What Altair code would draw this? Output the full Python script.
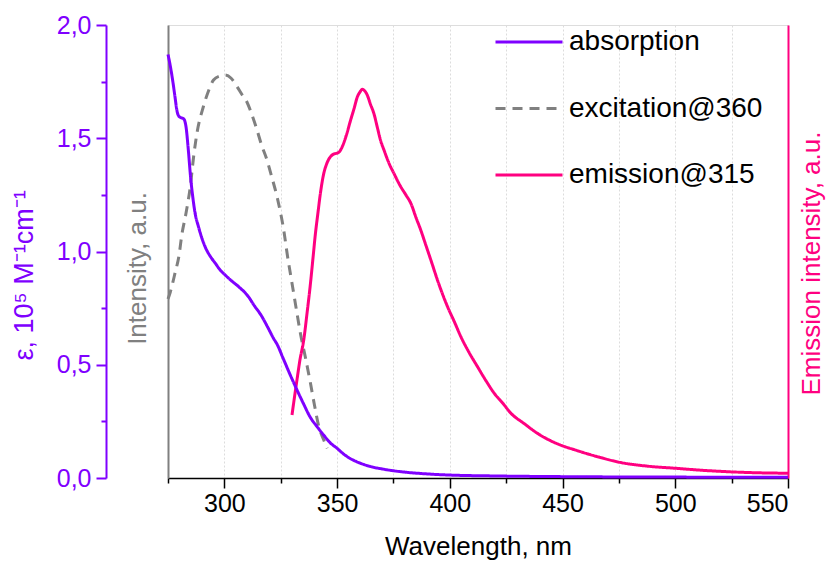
import altair as alt
import pandas as pd

# ---- data ----
series_names = ["absorption", "excitation@360", "emission@315"]

abs_wl = [275, 276, 277, 278, 279, 280, 281, 282, 283, 284, 285, 286, 287, 288.5, 290, 291.5,
          294, 296, 298, 300.4, 303, 306.3, 310.7, 313, 316.7, 319, 321.9, 323.4, 326, 329,
          332.2, 335, 338, 341.1, 344, 347, 350, 353, 356, 360.4, 365, 370, 375, 380, 390,
          400, 420, 450, 500, 550]
abs_val = [1.87, 1.82, 1.76, 1.69, 1.62, 1.595, 1.59, 1.585, 1.55, 1.45, 1.33, 1.24, 1.17, 1.11,
           1.06, 1.02, 0.975, 0.948, 0.92, 0.896, 0.872, 0.845, 0.80, 0.765, 0.712, 0.67, 0.615,
           0.59, 0.53, 0.46, 0.389, 0.33, 0.27, 0.227, 0.19, 0.155, 0.131, 0.105, 0.085, 0.065,
           0.05, 0.04, 0.032, 0.026, 0.018, 0.013, 0.009, 0.006, 0.004, 0.003]

exc_wl = [275, 276, 278, 280, 281, 283, 284.8, 286.5, 287.8, 290.7, 293, 295.2, 298, 300.4,
          303, 305.6, 308, 310, 312, 314.5, 316.5, 318.9, 321, 323.4, 326.4, 328, 330, 332,
          333.7, 336, 338.2, 340, 341.9, 344, 345.6]
exc_val = [0.79, 0.82, 0.90, 0.99, 1.065, 1.17, 1.28, 1.43, 1.52, 1.64, 1.71, 1.757, 1.775,
           1.779, 1.765, 1.728, 1.69, 1.66, 1.61, 1.536, 1.47, 1.404, 1.33, 1.24, 1.09, 0.98,
           0.86, 0.74, 0.64, 0.53, 0.418, 0.32, 0.227, 0.17, 0.131]

em_wl = [330.0, 331, 332.2, 333.5, 335.2, 336.7, 338.2, 339.3, 340.4, 341.5, 342.5, 344.1,
         345.5, 347.1, 348.5, 350, 351, 352.3, 354, 356, 357.5, 359, 360.2, 361.2, 362.2,
         363.4, 364.8, 366.3, 367.8, 369.3, 370.8, 373, 375.2, 378, 380.5, 382.7, 385, 387.1,
         389.3, 391.6, 395, 399, 402, 404.9, 408.5, 412.3, 416, 419.7, 423.5, 427.1, 433,
         438.9, 444, 450, 455.2, 460, 467, 476, 488, 500, 512, 525, 537, 550]
em_val = [0.278, 0.35, 0.433, 0.52, 0.609, 0.73, 0.86, 0.97, 1.08, 1.17, 1.25, 1.345, 1.39,
          1.419, 1.43, 1.434, 1.44, 1.463, 1.51, 1.58, 1.63, 1.683, 1.705, 1.716, 1.71, 1.69,
          1.65, 1.61, 1.55, 1.49, 1.448, 1.39, 1.345, 1.29, 1.25, 1.213, 1.15, 1.095, 1.03,
          0.962, 0.86, 0.756, 0.69, 0.624, 0.555, 0.491, 0.43, 0.374, 0.33, 0.286, 0.24, 0.197,
          0.168, 0.142, 0.125, 0.11, 0.09, 0.068, 0.052, 0.043, 0.034, 0.027, 0.023, 0.021]

x_ticks = [275, 300, 325, 350, 375, 400, 425, 450, 475, 500, 525, 550]
y_ticks = [0, 0.25, 0.5, 0.75, 1.0, 1.25, 1.5, 1.75, 2.0]

PURPLE = "#7f00ff"
GRAY = "#808080"
PINK = "#ff0080"
FONT = "Liberation Sans"

df = pd.concat([
    pd.DataFrame({"wavelength": abs_wl, "value": abs_val, "series": series_names[0]}),
    pd.DataFrame({"wavelength": exc_wl, "value": exc_val, "series": series_names[1]}),
    pd.DataFrame({"wavelength": em_wl, "value": em_val, "series": series_names[2]}),
], ignore_index=True)

x_scale = alt.Scale(domain=[275, 550], nice=False, zero=False)
y_scale = alt.Scale(domain=[0, 2], nice=False)

x_axis = alt.Axis(
    title="Wavelength, nm", values=x_ticks,
    labelExpr="datum.value % 50 == 0 ? datum.label : ''",
    tickSize={"condition": {"test": "datum.value % 50 == 0", "value": 10}, "value": 5},
    tickColor="black", tickWidth=1.5, domainColor="black", domainWidth=1.5,
    labelColor="black", labelFontSize=25, labelPadding=3, labelFont=FONT,
    titleColor="black", titleFontSize=26, titleFontWeight="normal", titleFont=FONT,
    titlePadding=17,
    grid=True, gridColor="#dcdcdc", gridDash=[2, 2], gridWidth=1,
)

legend = alt.Legend(
    title=None, orient="none", legendX=326, legendY=-18,
    symbolType="stroke", symbolSize=4489, symbolStrokeWidth=3,
    labelFontSize=28, labelFont=FONT, labelColor="black", labelOffset=5,
    labelLimit=0, rowPadding=17.5,
)

color_scale = alt.Scale(domain=series_names, range=[PURPLE, GRAY, PINK])
dash_scale = alt.Scale(domain=series_names, range=[[1, 0], [10, 7], [1, 0]])

purple_axis = alt.Axis(
    title="ε, 10⁵ M⁻¹cm⁻¹", orient="left", offset=62, values=y_ticks,
    labelExpr="datum.value % 0.5 == 0 ? replace(format(datum.value, '.1f'), '.', ',') : ''",
    tickSize={"condition": {"test": "datum.value % 0.5 == 0", "value": 10}, "value": 5},
    tickColor=PURPLE, tickWidth=2, domainColor=PURPLE, domainWidth=2,
    labelColor=PURPLE, labelFontSize=25, labelFont=FONT, labelPadding=5,
    titleColor=PURPLE, titleFontSize=27, titleFontWeight="normal", titleFont=FONT,
    titlePadding=18, titleY=250, grid=False,
)
gray_axis = alt.Axis(
    title="Intensity, a.u.", orient="left", offset=0,
    ticks=False, labels=False, domainColor=GRAY, domainWidth=2,
    titleColor=GRAY, titleFontSize=26, titleFontWeight="normal", titleFont=FONT,
    titlePadding=18, titleY=243, grid=False,
)
pink_axis = alt.Axis(
    title="Emission intensity, a.u.", orient="right", offset=0,
    ticks=False, labels=False, domainColor=PINK, domainWidth=2,
    titleColor=PINK, titleFontSize=26, titleFontWeight="normal", titleFont=FONT,
    titleAngle=270, titleBaseline="top", titlePadding=10, titleY=238, grid=False,
)


def line_layer(name, yaxis):
    return alt.Chart(df).transform_filter(alt.datum.series == name).mark_line(
        strokeWidth=3, interpolate="monotone"
    ).encode(
        x=alt.X("wavelength:Q", scale=x_scale, axis=x_axis),
        y=alt.Y("value:Q", scale=y_scale, axis=yaxis),
        color=alt.Color("series:N", scale=color_scale, legend=legend),
        strokeDash=alt.StrokeDash("series:N", scale=dash_scale, legend=legend),
    )


chart = alt.layer(
    line_layer(series_names[1], gray_axis),
    line_layer(series_names[2], pink_axis),
    line_layer(series_names[0], purple_axis),
).resolve_axis(y="independent").properties(
    width=620, height=453,
    autosize=alt.AutoSizeParams(type="none"),
    padding={"left": 168, "top": 25, "right": 40, "bottom": 85},
).configure_view(strokeWidth=0).configure(font=FONT)

chart.save("out.html", embed_options={"renderer": "svg", "actions": False})
